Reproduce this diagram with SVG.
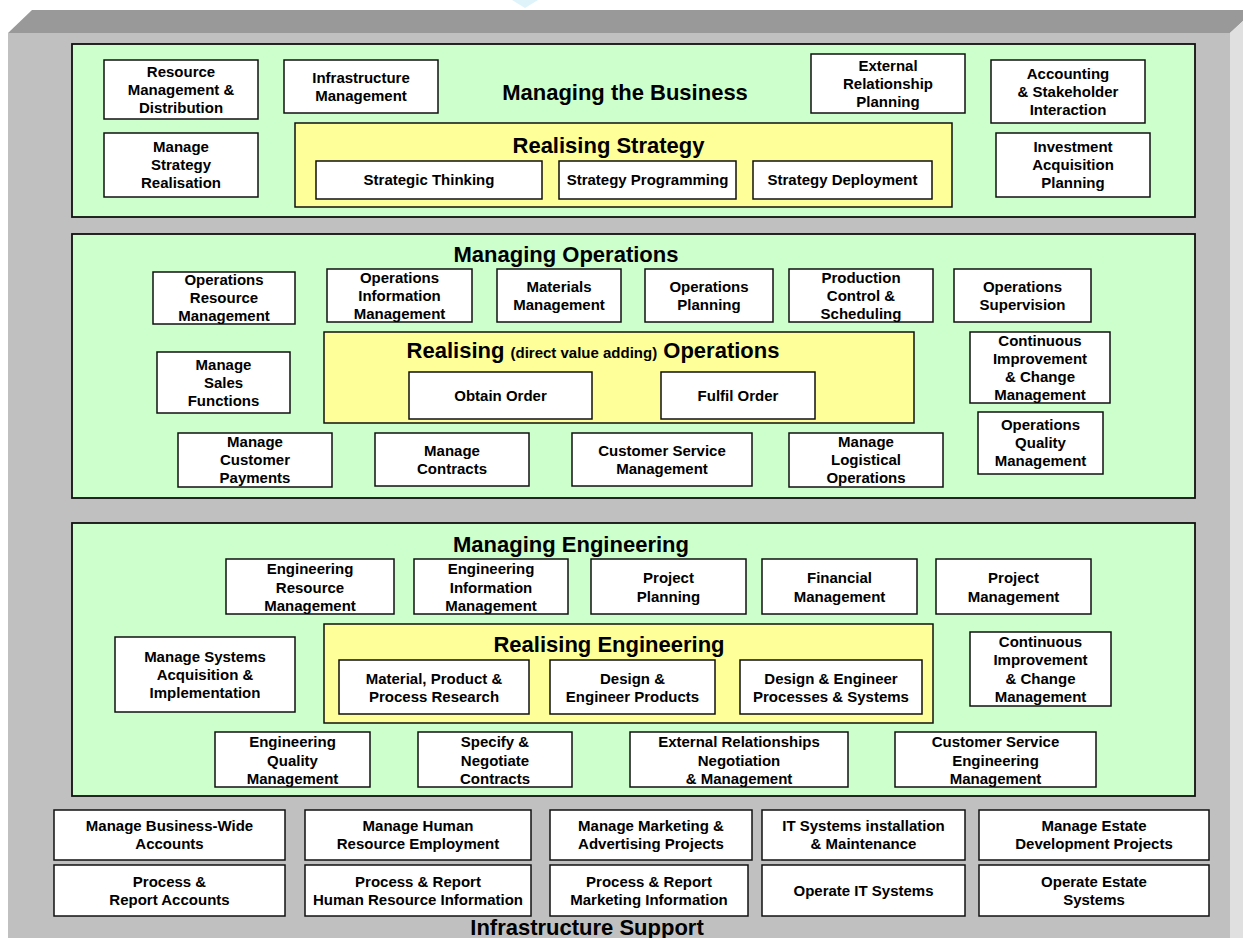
<svg xmlns="http://www.w3.org/2000/svg" width="1243" height="938" viewBox="0 0 1243 938">
<style>
text{font-family:"Liberation Sans",Arial,sans-serif;font-weight:bold;fill:#000;text-anchor:middle}
.t{font-size:15px}
.h{font-size:22px}
.s{font-size:15px}
.box{fill:#fff;stroke:#111;stroke-width:1.5}
.panel{fill:#ccffcc;stroke:#111;stroke-width:1.8}
.core{fill:#ffff99;stroke:#111;stroke-width:1.5}
</style>
<rect x="0" y="0" width="1243" height="938" fill="#fff"/>
<polygon points="512,0 538,0 525,8" fill="#dff3fb"/>
<g id="frame">
<polygon points="8,33 32,10 1243,10 1243,21 1230,33" fill="#999999"/>
<rect x="8" y="33" width="1222" height="905" fill="#c0c0c0"/>
<polygon points="1230,33 1243,21 1243,938 1230,938" fill="#e0e0e0"/>
</g>

<g id="managing-business">
<rect class="panel" x="72" y="44" width="1123" height="173"/>
<text class="h" x="625" y="100">Managing the Business</text>
</g>
<g id="res-mgmt"><rect class="box" x="104" y="60" width="154" height="59"/><text class="t" x="181" y="76.5">Resource</text><text class="t" x="181" y="94.5">Management &amp;</text><text class="t" x="181" y="112.5">Distribution</text></g>
<g id="infra-mgmt"><rect class="box" x="284" y="60" width="154" height="53"/><text class="t" x="361" y="82.5">Infrastructure</text><text class="t" x="361" y="100.5">Management</text></g>
<g id="ext-rel-planning"><rect class="box" x="811" y="54" width="154" height="59"/><text class="t" x="888" y="70.5">External</text><text class="t" x="888" y="88.5">Relationship</text><text class="t" x="888" y="106.5">Planning</text></g>
<g id="accounting"><rect class="box" x="991" y="60" width="154" height="63"/><text class="t" x="1068" y="78.5">Accounting</text><text class="t" x="1068" y="96.5">&amp; Stakeholder</text><text class="t" x="1068" y="114.5">Interaction</text></g>
<g id="manage-strategy"><rect class="box" x="104" y="133" width="154" height="64"/><text class="t" x="181" y="152">Manage</text><text class="t" x="181" y="170">Strategy</text><text class="t" x="181" y="188">Realisation</text></g>
<g id="investment"><rect class="box" x="996" y="133" width="154" height="64"/><text class="t" x="1073" y="152">Investment</text><text class="t" x="1073" y="170">Acquisition</text><text class="t" x="1073" y="188">Planning</text></g>
<g id="realising-strategy">
<rect class="core" x="295" y="123" width="657" height="84"/>
<text class="h" x="608.5" y="153">Realising Strategy</text>
</g>
<g id="strategic-thinking"><rect class="box" x="316" y="161" width="226" height="38"/><text class="t" x="429" y="185">Strategic Thinking</text></g>
<g id="strategy-programming"><rect class="box" x="559" y="161" width="177" height="38"/><text class="t" x="647.5" y="185">Strategy Programming</text></g>
<g id="strategy-deployment"><rect class="box" x="753" y="161" width="179" height="38"/><text class="t" x="842.5" y="185">Strategy Deployment</text></g>

<g id="managing-operations">
<rect class="panel" x="72" y="234" width="1123" height="264"/>
<text class="h" x="566" y="262">Managing Operations</text>
</g>
<g id="ops-resource"><rect class="box" x="153" y="272" width="142" height="52"/><text class="t" x="224" y="285">Operations</text><text class="t" x="224" y="303">Resource</text><text class="t" x="224" y="321">Management</text></g>
<g id="ops-info"><rect class="box" x="327" y="269" width="145" height="53"/><text class="t" x="399.5" y="282.5">Operations</text><text class="t" x="399.5" y="300.5">Information</text><text class="t" x="399.5" y="318.5">Management</text></g>
<g id="materials"><rect class="box" x="497" y="269" width="124" height="53"/><text class="t" x="559" y="291.5">Materials</text><text class="t" x="559" y="309.5">Management</text></g>
<g id="ops-planning"><rect class="box" x="645" y="269" width="128" height="53"/><text class="t" x="709" y="291.5">Operations</text><text class="t" x="709" y="309.5">Planning</text></g>
<g id="production-control"><rect class="box" x="789" y="269" width="144" height="53"/><text class="t" x="861" y="282.5">Production</text><text class="t" x="861" y="300.5">Control &amp;</text><text class="t" x="861" y="318.5">Scheduling</text></g>
<g id="ops-supervision"><rect class="box" x="954" y="269" width="137" height="53"/><text class="t" x="1022.5" y="291.5">Operations</text><text class="t" x="1022.5" y="309.5">Supervision</text></g>
<g id="realising-operations">
<rect class="core" x="324" y="332" width="590" height="91"/>
<text x="593" y="358"><tspan class="h">Realising </tspan><tspan class="s">(direct value adding)</tspan><tspan class="h"> Operations</tspan></text>
</g>
<g id="obtain-order"><rect class="box" x="409" y="372" width="183" height="47"/><text class="t" x="500.5" y="400.5">Obtain Order</text></g>
<g id="fulfil-order"><rect class="box" x="661" y="372" width="154" height="47"/><text class="t" x="738" y="400.5">Fulfil Order</text></g>
<g id="manage-sales"><rect class="box" x="157" y="352" width="133" height="61"/><text class="t" x="223.5" y="369.5">Manage</text><text class="t" x="223.5" y="387.5">Sales</text><text class="t" x="223.5" y="405.5">Functions</text></g>
<g id="cont-impr-ops"><rect class="box" x="970" y="332" width="140" height="71"/><text class="t" x="1040" y="345.5">Continuous</text><text class="t" x="1040" y="363.5">Improvement</text><text class="t" x="1040" y="381.5">&amp; Change</text><text class="t" x="1040" y="399.5">Management</text></g>
<g id="ops-quality"><rect class="box" x="978" y="412" width="125" height="62"/><text class="t" x="1040.5" y="430">Operations</text><text class="t" x="1040.5" y="448">Quality</text><text class="t" x="1040.5" y="466">Management</text></g>
<g id="cust-payments"><rect class="box" x="178" y="433" width="154" height="54"/><text class="t" x="255" y="447">Manage</text><text class="t" x="255" y="465">Customer</text><text class="t" x="255" y="483">Payments</text></g>
<g id="manage-contracts"><rect class="box" x="375" y="433" width="154" height="53"/><text class="t" x="452" y="455.5">Manage</text><text class="t" x="452" y="473.5">Contracts</text></g>
<g id="cust-service"><rect class="box" x="572" y="433" width="180" height="53"/><text class="t" x="662" y="455.5">Customer Service</text><text class="t" x="662" y="473.5">Management</text></g>
<g id="logistical"><rect class="box" x="789" y="433" width="154" height="54"/><text class="t" x="866" y="447">Manage</text><text class="t" x="866" y="465">Logistical</text><text class="t" x="866" y="483">Operations</text></g>

<g id="managing-engineering">
<rect class="panel" x="72" y="523" width="1123" height="273"/>
<text class="h" x="571" y="552">Managing Engineering</text>
</g>
<g id="eng-resource"><rect class="box" x="226" y="559" width="168" height="55"/><text class="t" x="310" y="574">Engineering</text><text class="t" x="310" y="592.5">Resource</text><text class="t" x="310" y="611">Management</text></g>
<g id="eng-info"><rect class="box" x="414" y="559" width="154" height="55"/><text class="t" x="491" y="574">Engineering</text><text class="t" x="491" y="592.5">Information</text><text class="t" x="491" y="611">Management</text></g>
<g id="project-planning"><rect class="box" x="591" y="559" width="155" height="55"/><text class="t" x="668.5" y="583">Project</text><text class="t" x="668.5" y="601.5">Planning</text></g>
<g id="financial"><rect class="box" x="762" y="559" width="155" height="55"/><text class="t" x="839.5" y="583">Financial</text><text class="t" x="839.5" y="601.5">Management</text></g>
<g id="project-mgmt"><rect class="box" x="936" y="559" width="155" height="55"/><text class="t" x="1013.5" y="583">Project</text><text class="t" x="1013.5" y="601.5">Management</text></g>
<g id="manage-systems"><rect class="box" x="115" y="637" width="180" height="75"/><text class="t" x="205" y="661.5">Manage Systems</text><text class="t" x="205" y="679.5">Acquisition &amp;</text><text class="t" x="205" y="697.5">Implementation</text></g>
<g id="realising-engineering">
<rect class="core" x="324" y="624" width="609" height="99"/>
<text class="h" x="609" y="652">Realising Engineering</text>
</g>
<g id="material-research"><rect class="box" x="339" y="660" width="190" height="54"/><text class="t" x="434" y="683.5">Material, Product &amp;</text><text class="t" x="434" y="701.5">Process Research</text></g>
<g id="design-products"><rect class="box" x="550" y="660" width="165" height="54"/><text class="t" x="632.5" y="683.5">Design &amp;</text><text class="t" x="632.5" y="701.5">Engineer Products</text></g>
<g id="design-processes"><rect class="box" x="740" y="660" width="182" height="54"/><text class="t" x="831" y="683.5">Design &amp; Engineer</text><text class="t" x="831" y="701.5">Processes &amp; Systems</text></g>
<g id="cont-impr-eng"><rect class="box" x="970" y="632" width="141" height="74"/><text class="t" x="1040.5" y="646.5">Continuous</text><text class="t" x="1040.5" y="665">Improvement</text><text class="t" x="1040.5" y="683.5">&amp; Change</text><text class="t" x="1040.5" y="702">Management</text></g>
<g id="eng-quality"><rect class="box" x="215" y="732" width="155" height="55"/><text class="t" x="292.5" y="747">Engineering</text><text class="t" x="292.5" y="765.5">Quality</text><text class="t" x="292.5" y="784">Management</text></g>
<g id="specify-contracts"><rect class="box" x="418" y="732" width="154" height="55"/><text class="t" x="495" y="747">Specify &amp;</text><text class="t" x="495" y="765.5">Negotiate</text><text class="t" x="495" y="784">Contracts</text></g>
<g id="ext-rel-eng"><rect class="box" x="630" y="732" width="218" height="55"/><text class="t" x="739" y="747">External Relationships</text><text class="t" x="739" y="765.5">Negotiation</text><text class="t" x="739" y="784">&amp; Management</text></g>
<g id="cust-service-eng"><rect class="box" x="895" y="732" width="201" height="55"/><text class="t" x="995.5" y="747">Customer Service</text><text class="t" x="995.5" y="765.5">Engineering</text><text class="t" x="995.5" y="784">Management</text></g>

<g id="manage-accounts"><rect class="box" x="54" y="810" width="231" height="50"/><text class="t" x="169.5" y="831">Manage Business-Wide</text><text class="t" x="169.5" y="849">Accounts</text></g>
<g id="manage-hr"><rect class="box" x="305" y="810" width="226" height="50"/><text class="t" x="418" y="831">Manage Human</text><text class="t" x="418" y="849">Resource Employment</text></g>
<g id="manage-marketing"><rect class="box" x="550" y="810" width="202" height="50"/><text class="t" x="651" y="831">Manage Marketing &amp;</text><text class="t" x="651" y="849">Advertising Projects</text></g>
<g id="it-install"><rect class="box" x="762" y="810" width="203" height="50"/><text class="t" x="863.5" y="831">IT Systems installation</text><text class="t" x="863.5" y="849">&amp; Maintenance</text></g>
<g id="manage-estate"><rect class="box" x="979" y="810" width="230" height="50"/><text class="t" x="1094" y="831">Manage Estate</text><text class="t" x="1094" y="849">Development Projects</text></g>
<g id="process-accounts"><rect class="box" x="54" y="865" width="231" height="51"/><text class="t" x="169.5" y="886.5">Process &amp;</text><text class="t" x="169.5" y="904.5">Report Accounts</text></g>
<g id="process-hr"><rect class="box" x="305" y="865" width="226" height="51"/><text class="t" x="418" y="886.5">Process &amp; Report</text><text class="t" x="418" y="904.5">Human Resource Information</text></g>
<g id="process-marketing"><rect class="box" x="550" y="865" width="198" height="51"/><text class="t" x="649" y="886.5">Process &amp; Report</text><text class="t" x="649" y="904.5">Marketing Information</text></g>
<g id="operate-it"><rect class="box" x="762" y="865" width="203" height="51"/><text class="t" x="863.5" y="895.5">Operate IT Systems</text></g>
<g id="operate-estate"><rect class="box" x="979" y="865" width="230" height="51"/><text class="t" x="1094" y="886.5">Operate Estate</text><text class="t" x="1094" y="904.5">Systems</text></g>
<g id="infrastructure-support"><text class="h" x="587" y="935">Infrastructure Support</text></g>
</svg>
